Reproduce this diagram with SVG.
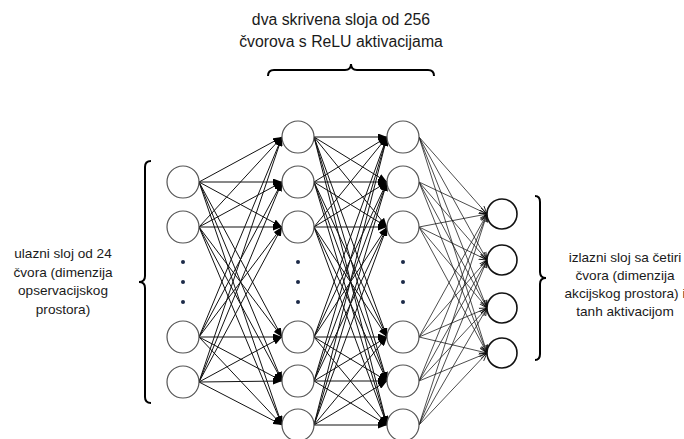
<svg xmlns="http://www.w3.org/2000/svg" width="684" height="439" viewBox="0 0 684 439">
<defs>
<marker id="af" markerUnits="userSpaceOnUse" markerWidth="9" markerHeight="7" refX="9" refY="3.5" orient="auto"><path d="M0,0 L9,3.5 L0,7 z" fill="#000"/></marker>
<marker id="ao" markerUnits="userSpaceOnUse" markerWidth="9" markerHeight="8" refX="8" refY="4" orient="auto"><path d="M0,1 L8,4 L0,7" fill="none" stroke="#000" stroke-width="0.8"/></marker>
</defs>
<style>
.n{fill:#fff;stroke:#555;stroke-width:1.2}
.o{fill:#fff;stroke:#111;stroke-width:1.6}
.c{stroke:#111;stroke-width:1;fill:none}
.cf{marker-end:url(#af)}
.co{marker-end:url(#ao);stroke-width:0.75}
.d{fill:#1c2a48}
.br{fill:none;stroke:#000;stroke-width:2}
.t{font-family:"Liberation Sans",Arial,sans-serif;font-size:13.6px;fill:#1a1a1a;text-anchor:middle}
.tt{font-family:"Liberation Sans",Arial,sans-serif;font-size:15.8px;fill:#1a1a1a;text-anchor:middle}
</style>
<rect width="684" height="439" fill="#fff"/>
<g id="connectors">
<g class="c cf">
<line x1="199" y1="182" x2="282" y2="137"/><line x1="199" y1="182" x2="282" y2="182"/><line x1="199" y1="182" x2="282" y2="227"/><line x1="199" y1="182" x2="282" y2="337"/><line x1="199" y1="182" x2="282" y2="381"/><line x1="199" y1="182" x2="282" y2="425"/>
<line x1="199" y1="227" x2="282" y2="137"/><line x1="199" y1="227" x2="282" y2="182"/><line x1="199" y1="227" x2="282" y2="227"/><line x1="199" y1="227" x2="282" y2="337"/><line x1="199" y1="227" x2="282" y2="381"/><line x1="199" y1="227" x2="282" y2="425"/>
<line x1="199" y1="337" x2="282" y2="137"/><line x1="199" y1="337" x2="282" y2="182"/><line x1="199" y1="337" x2="282" y2="227"/><line x1="199" y1="337" x2="282" y2="337"/><line x1="199" y1="337" x2="282" y2="381"/><line x1="199" y1="337" x2="282" y2="425"/>
<line x1="199" y1="382" x2="282" y2="137"/><line x1="199" y1="382" x2="282" y2="182"/><line x1="199" y1="382" x2="282" y2="227"/><line x1="199" y1="382" x2="282" y2="337"/><line x1="199" y1="382" x2="282" y2="381"/><line x1="199" y1="382" x2="282" y2="425"/>
<line x1="314" y1="137" x2="387" y2="137"/><line x1="314" y1="137" x2="387" y2="182"/><line x1="314" y1="137" x2="387" y2="227"/><line x1="314" y1="137" x2="387" y2="337"/><line x1="314" y1="137" x2="387" y2="381"/><line x1="314" y1="137" x2="387" y2="425"/>
<line x1="314" y1="182" x2="387" y2="137"/><line x1="314" y1="182" x2="387" y2="182"/><line x1="314" y1="182" x2="387" y2="227"/><line x1="314" y1="182" x2="387" y2="337"/><line x1="314" y1="182" x2="387" y2="381"/><line x1="314" y1="182" x2="387" y2="425"/>
<line x1="314" y1="227" x2="387" y2="137"/><line x1="314" y1="227" x2="387" y2="182"/><line x1="314" y1="227" x2="387" y2="227"/><line x1="314" y1="227" x2="387" y2="337"/><line x1="314" y1="227" x2="387" y2="381"/><line x1="314" y1="227" x2="387" y2="425"/>
<line x1="314" y1="337" x2="387" y2="137"/><line x1="314" y1="337" x2="387" y2="182"/><line x1="314" y1="337" x2="387" y2="227"/><line x1="314" y1="337" x2="387" y2="337"/><line x1="314" y1="337" x2="387" y2="381"/><line x1="314" y1="337" x2="387" y2="425"/>
<line x1="314" y1="381" x2="387" y2="137"/><line x1="314" y1="381" x2="387" y2="182"/><line x1="314" y1="381" x2="387" y2="227"/><line x1="314" y1="381" x2="387" y2="337"/><line x1="314" y1="381" x2="387" y2="381"/><line x1="314" y1="381" x2="387" y2="425"/>
<line x1="314" y1="425" x2="387" y2="137"/><line x1="314" y1="425" x2="387" y2="182"/><line x1="314" y1="425" x2="387" y2="227"/><line x1="314" y1="425" x2="387" y2="337"/><line x1="314" y1="425" x2="387" y2="381"/><line x1="314" y1="425" x2="387" y2="425"/>
</g>
<g class="c co">
<line x1="419" y1="137" x2="487" y2="214"/><line x1="419" y1="137" x2="487" y2="260"/><line x1="419" y1="137" x2="487" y2="308"/><line x1="419" y1="137" x2="487" y2="353"/>
<line x1="419" y1="182" x2="487" y2="214"/><line x1="419" y1="182" x2="487" y2="260"/><line x1="419" y1="182" x2="487" y2="308"/><line x1="419" y1="182" x2="487" y2="353"/>
<line x1="419" y1="227" x2="487" y2="214"/><line x1="419" y1="227" x2="487" y2="260"/><line x1="419" y1="227" x2="487" y2="308"/><line x1="419" y1="227" x2="487" y2="353"/>
<line x1="419" y1="337" x2="487" y2="214"/><line x1="419" y1="337" x2="487" y2="260"/><line x1="419" y1="337" x2="487" y2="308"/><line x1="419" y1="337" x2="487" y2="353"/>
<line x1="419" y1="381" x2="487" y2="214"/><line x1="419" y1="381" x2="487" y2="260"/><line x1="419" y1="381" x2="487" y2="308"/><line x1="419" y1="381" x2="487" y2="353"/>
<line x1="419" y1="425" x2="487" y2="214"/><line x1="419" y1="425" x2="487" y2="260"/><line x1="419" y1="425" x2="487" y2="308"/><line x1="419" y1="425" x2="487" y2="353"/>
</g>
</g>
<g id="input-layer">
<circle class="n" cx="183" cy="182" r="16"/><circle class="n" cx="183" cy="227" r="16"/>
<circle class="d" cx="183" cy="262" r="2"/><circle class="d" cx="183" cy="282" r="2"/><circle class="d" cx="183" cy="302" r="2"/>
<circle class="n" cx="183" cy="337" r="16"/><circle class="n" cx="183" cy="382" r="16"/>
</g>
<g id="hidden-layer-1">
<circle class="n" cx="298" cy="137" r="16"/><circle class="n" cx="298" cy="182" r="16"/><circle class="n" cx="298" cy="227" r="16"/>
<circle class="d" cx="298" cy="262" r="2"/><circle class="d" cx="298" cy="282" r="2"/><circle class="d" cx="298" cy="302" r="2"/>
<circle class="n" cx="298" cy="337" r="16"/><circle class="n" cx="298" cy="381" r="16"/><circle class="n" cx="298" cy="425" r="16"/>
</g>
<g id="hidden-layer-2">
<circle class="n" cx="403" cy="137" r="16"/><circle class="n" cx="403" cy="182" r="16"/><circle class="n" cx="403" cy="227" r="16"/>
<circle class="d" cx="403" cy="262" r="2"/><circle class="d" cx="403" cy="282" r="2"/><circle class="d" cx="403" cy="302" r="2"/>
<circle class="n" cx="403" cy="337" r="16"/><circle class="n" cx="403" cy="381" r="16"/><circle class="n" cx="403" cy="425" r="16"/>
</g>
<g id="output-layer">
<circle class="o" cx="502" cy="214" r="15"/><circle class="o" cx="502" cy="260" r="15"/><circle class="o" cx="502" cy="308" r="15"/><circle class="o" cx="502" cy="353" r="15"/>
</g>
<g id="hidden-label">
<path class="br" d="M268,76 Q268,70 274,70 L345,70 Q351,70 351,64 Q351,70 357,70 L428,70 Q434,70 434,76"/>
<text class="tt" x="341" y="25">dva skrivena sloja od 256</text>
<text class="tt" x="341" y="47">čvorova s ReLU aktivacijama</text>
</g>
<g id="input-label">
<path class="br" d="M151,161 Q145,161 145,167 L145,276 Q145,282 139,282 Q145,282 145,288 L145,397 Q145,403 151,403"/>
<text class="t" x="63" y="258">ulazni sloj od 24</text>
<text class="t" x="63" y="276.5">čvora (dimenzija</text>
<text class="t" x="63" y="295">opservacijskog</text>
<text class="t" x="63" y="313.5">prostora)</text>
</g>
<g id="output-label">
<path class="br" d="M535,196 Q540,196 540,202 L540,272 Q540,278 546,278 Q540,278 540,284 L540,354 Q540,360 535,360"/>
<text class="t" x="625" y="262">izlazni sloj sa četiri</text>
<text class="t" x="625" y="280">čvora (dimenzija</text>
<text class="t" x="625" y="298">akcijskog prostora) i</text>
<text class="t" x="625" y="316">tanh aktivacijom</text>
</g>
</svg>
